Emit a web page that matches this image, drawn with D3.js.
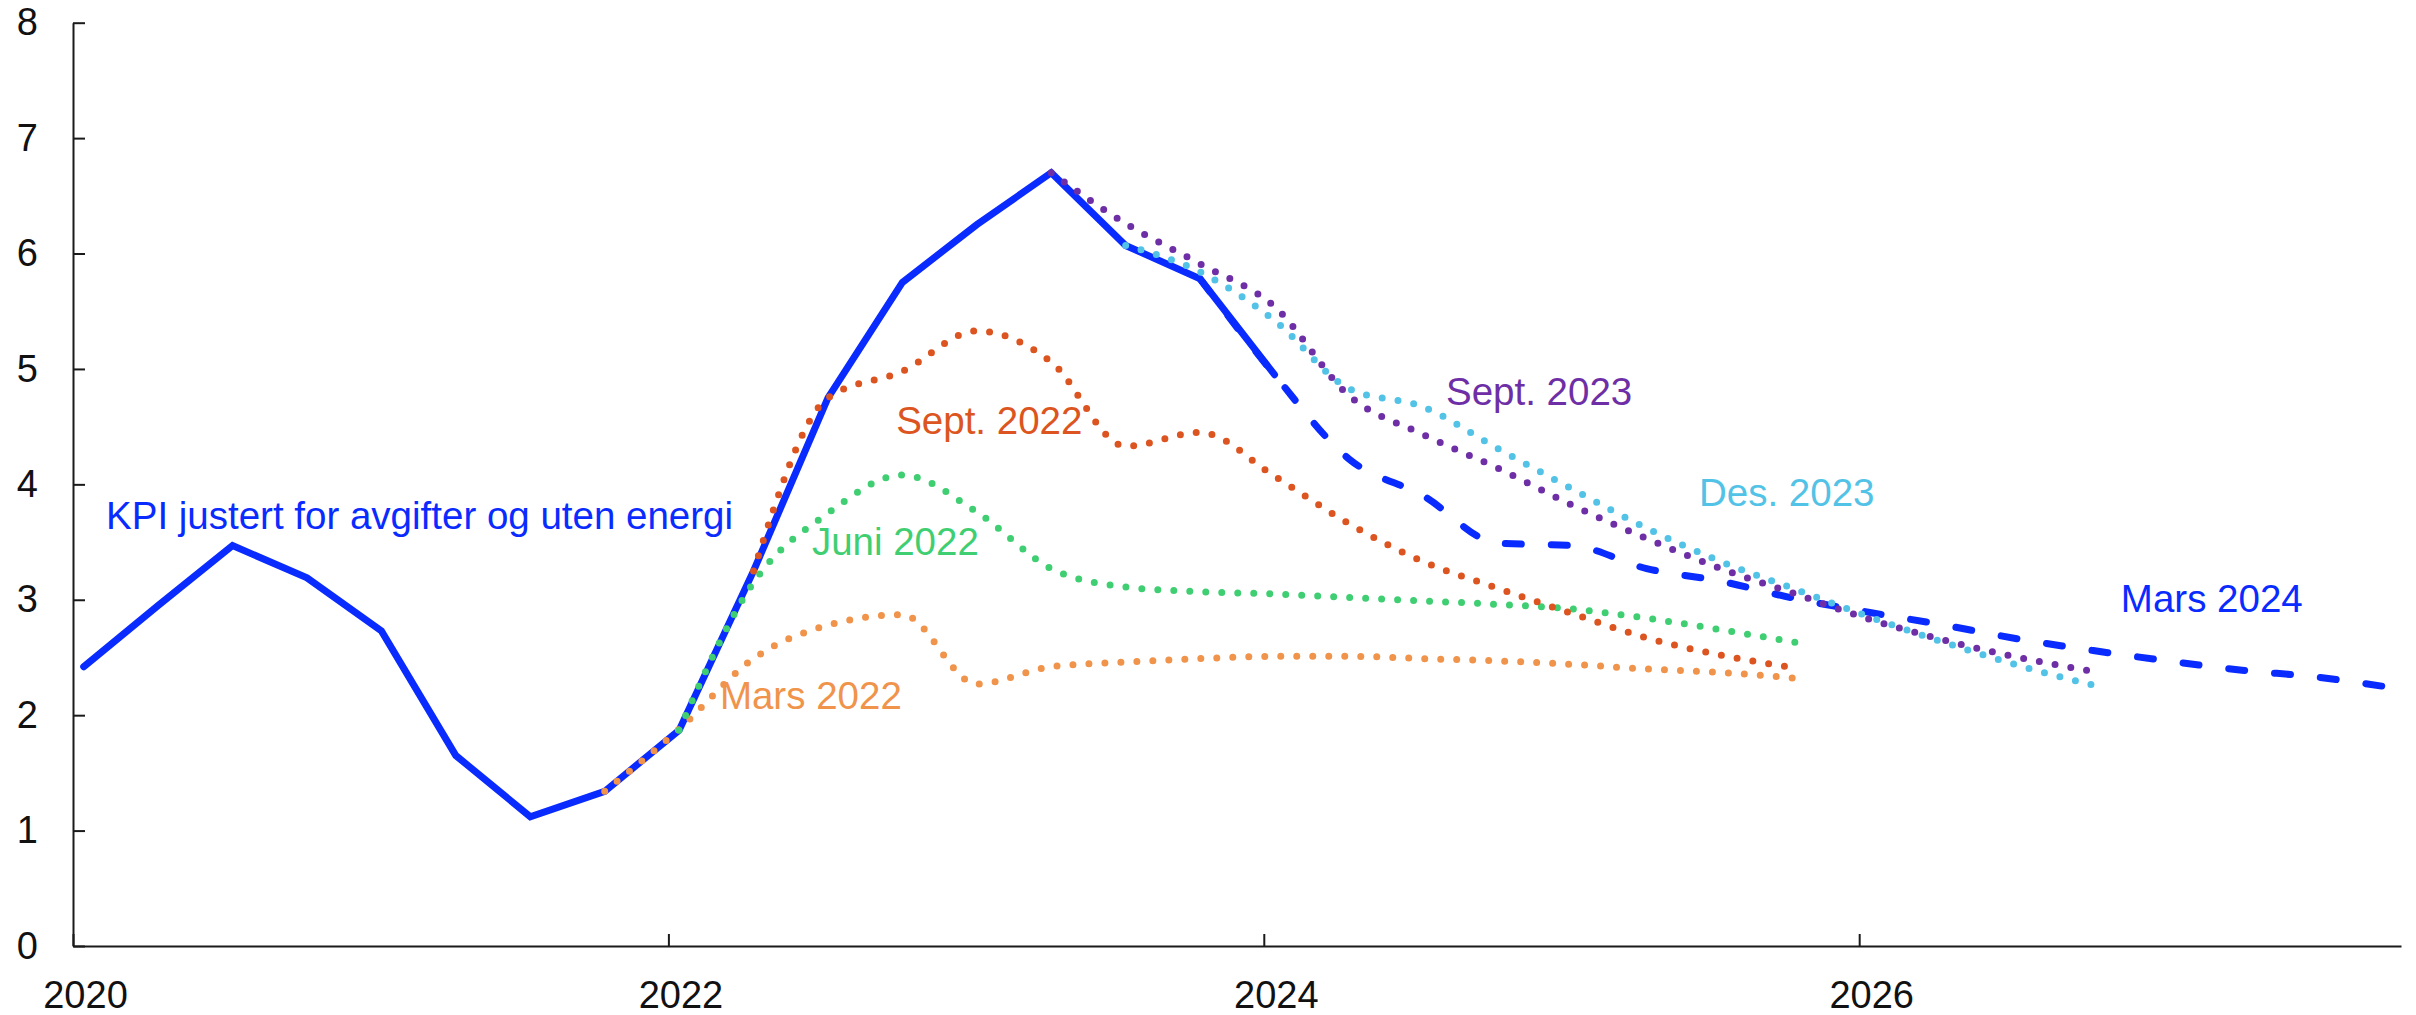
<!DOCTYPE html>
<html>
<head>
<meta charset="utf-8">
<script src="https://cdn.jsdelivr.net/npm/d3@7"></script>
<style>
html, body { margin: 0; padding: 0; background: #ffffff; }
svg { display: block; }
text { font-family: "Liberation Sans", Arial, sans-serif; }
</style>
</head>
<body>
<svg id="chart" width="2416" height="1015"></svg>
<script>
// ---------- DATA ----------
const quarters = [
  "2020K1","2020K2","2020K3","2020K4",
  "2021K1","2021K2","2021K3","2021K4",
  "2022K1","2022K2","2022K3","2022K4",
  "2023K1","2023K2","2023K3","2023K4",
  "2024K1","2024K2","2024K3","2024K4",
  "2025K1","2025K2","2025K3","2025K4",
  "2026K1","2026K2","2026K3","2026K4",
  "2027K1","2027K2","2027K3","2027K4"
];
const yTickValues = [0, 1, 2, 3, 4, 5, 6, 7, 8];
const xTickYears = [2020, 2022, 2024, 2026];

// KPI-JAE, actual
const kpiStart = "2020K1";
const kpiValues = [2.42, 2.95, 3.47, 3.19, 2.73, 1.65, 1.12, 1.34, 1.87, 3.25, 4.75, 5.75, 6.25, 6.70, 6.07, 5.78, 4.95];

// Forecast vintages
const mars2022Start = "2021K4";
const mars2022Values = [1.34, 1.88, 2.49, 2.78, 2.87, 2.27, 2.42, 2.46, 2.49, 2.51, 2.51, 2.49, 2.47, 2.44, 2.40, 2.37, 2.32];

const juni2022Start = "2022K1";
const juni2022Values = [1.87, 3.15, 3.75, 4.08, 3.76, 3.27, 3.11, 3.07, 3.05, 3.02, 2.99, 2.96, 2.92, 2.84, 2.74, 2.63];

const sept2022Start = "2022K2";
const sept2022Values = [3.25, 4.75, 4.98, 5.33, 5.06, 4.33, 4.45, 4.07, 3.66, 3.33, 3.10, 2.88, 2.67, 2.52, 2.41];

const sept2023Start = "2023K2";
const sept2023Values = [6.70, 6.26, 5.91, 5.54, 4.77, 4.43, 4.14, 3.82, 3.53, 3.27, 3.05, 2.83, 2.65, 2.50, 2.38];

const des2023Start = "2023K3";
const des2023Values = [6.07, 5.84, 5.42, 4.83, 4.67, 4.31, 3.96, 3.62, 3.33, 3.09, 2.85, 2.63, 2.43, 2.26];

const mars2024Start = "2023K4";
const mars2024Values = [5.78, 4.95, 4.22, 3.90, 3.49, 3.47, 3.27, 3.16, 3.01, 2.89, 2.78, 2.66, 2.56, 2.47, 2.39, 2.33, 2.24];

const seriesNames = ["KPI justert for avgifter og uten energi", "Mars 2022", "Juni 2022", "Sept. 2022", "Sept. 2023", "Des. 2023", "Mars 2024"];

// ---------- LAYOUT ----------
const svg = d3.select("#chart");
const plot = { left: 73, right: 2401, top: 22.7, bottom: 946 };
const xDomainEnd = 2027.82;
const pointOffset = 0.036; // quarterly observations plotted slightly after the quarter start

const x = d3.scaleLinear().domain([2020, xDomainEnd]).range([plot.left, plot.right]);
const y = d3.scaleLinear().domain([0, 8]).range([plot.bottom, plot.top]);

function qToYear(q) {
  const yr = +q.slice(0, 4), k = +q.slice(5);
  return yr + (k - 1) / 4 + pointOffset;
}
function build(start, values) {
  const i0 = quarters.indexOf(start);
  return values.map((v, i) => ({ t: qToYear(quarters[i0 + i]), v }));
}

const FONT = 38;
const LABEL_FONT = 38.5;
const colors = {
  blue: "#0a2bff",
  mars2022: "#f0934b",
  juni2022: "#3fcf72",
  sept2022: "#dc5520",
  sept2023: "#6e2fa6",
  des2023: "#52c3e6"
};

// ---------- AXES ----------
const yAxis = d3.axisLeft(y)
  .tickValues(yTickValues)
  .tickSizeInner(-12)
  .tickSizeOuter(0)
  .tickPadding(35)
  .tickFormat(d3.format("d"));
const gy = svg.append("g").attr("transform", `translate(${plot.left},0)`).call(yAxis);

const xAxis = d3.axisBottom(x)
  .tickValues(xTickYears)
  .tickSizeInner(-12)
  .tickSizeOuter(0)
  .tickPadding(35)
  .tickFormat(d3.format("d"));
const gx = svg.append("g").attr("transform", `translate(0,${plot.bottom})`).call(xAxis);
gx.selectAll(".tick text").attr("dx", 12);

[gx, gy].forEach(g => {
  g.select(".domain").attr("stroke", "#1a1a1a").attr("stroke-width", 2);
  g.selectAll(".tick line").attr("stroke", "#1a1a1a").attr("stroke-width", 2);
  g.selectAll(".tick text")
    .attr("fill", "#111")
    .style("font-size", FONT + "px")
    .style("font-family", '"Liberation Sans", Arial, sans-serif');
});

// ---------- LINES ----------
const lineLinear = d3.line().x(d => x(d.t)).y(d => y(d.v)).curve(d3.curveLinear);
const lineSmooth = d3.line().x(d => x(d.t)).y(d => y(d.v)).curve(d3.curveMonotoneX);

const gl = svg.append("g");

// actual KPI
gl.append("path")
  .datum(build(kpiStart, kpiValues))
  .attr("d", lineLinear)
  .attr("fill", "none")
  .attr("stroke", colors.blue)
  .attr("stroke-width", 7)
  .attr("stroke-linecap", "round")
  .attr("stroke-linejoin", "miter");

// Mars 2024 dashed
gl.append("path")
  .datum(build(mars2024Start, mars2024Values))
  .attr("d", lineSmooth)
  .attr("fill", "none")
  .attr("stroke", colors.blue)
  .attr("stroke-width", 7)
  .attr("stroke-linecap", "round")
  .attr("stroke-dasharray", "16,30");

// dotted vintages
const dotted = [
  { start: mars2022Start, values: mars2022Values, color: colors.mars2022 },
  { start: juni2022Start, values: juni2022Values, color: colors.juni2022 },
  { start: sept2022Start, values: sept2022Values, color: colors.sept2022 },
  { start: sept2023Start, values: sept2023Values, color: colors.sept2023 },
  { start: des2023Start, values: des2023Values, color: colors.des2023 }
];
dotted.forEach(s => {
  gl.append("path")
    .datum(build(s.start, s.values))
    .attr("d", lineSmooth)
    .attr("fill", "none")
    .attr("stroke", s.color)
    .attr("stroke-width", 7)
    .attr("stroke-linecap", "round")
    .attr("stroke-dasharray", "0,16");
});

// ---------- LABELS ----------
const labelSpecs = [
  { name: seriesNames[0], t: 2020.111, v: 3.613, color: colors.blue },
  { name: seriesNames[1], t: 2022.173, v: 2.054, color: colors.mars2022 },
  { name: seriesNames[2], t: 2022.482, v: 3.388, color: colors.juni2022 },
  { name: seriesNames[3], t: 2022.765, v: 4.436, color: colors.sept2022 },
  { name: seriesNames[4], t: 2024.612, v: 4.688, color: colors.sept2023 },
  { name: seriesNames[5], t: 2025.462, v: 3.812, color: colors.des2023 },
  { name: seriesNames[6], t: 2026.879, v: 2.894, color: colors.blue }
];
svg.append("g").selectAll("text")
  .data(labelSpecs)
  .join("text")
  .attr("x", d => x(d.t))
  .attr("y", d => y(d.v))
  .attr("fill", d => d.color)
  .style("font-size", LABEL_FONT + "px")
  .text(d => d.name);
</script>
</body>
</html>
